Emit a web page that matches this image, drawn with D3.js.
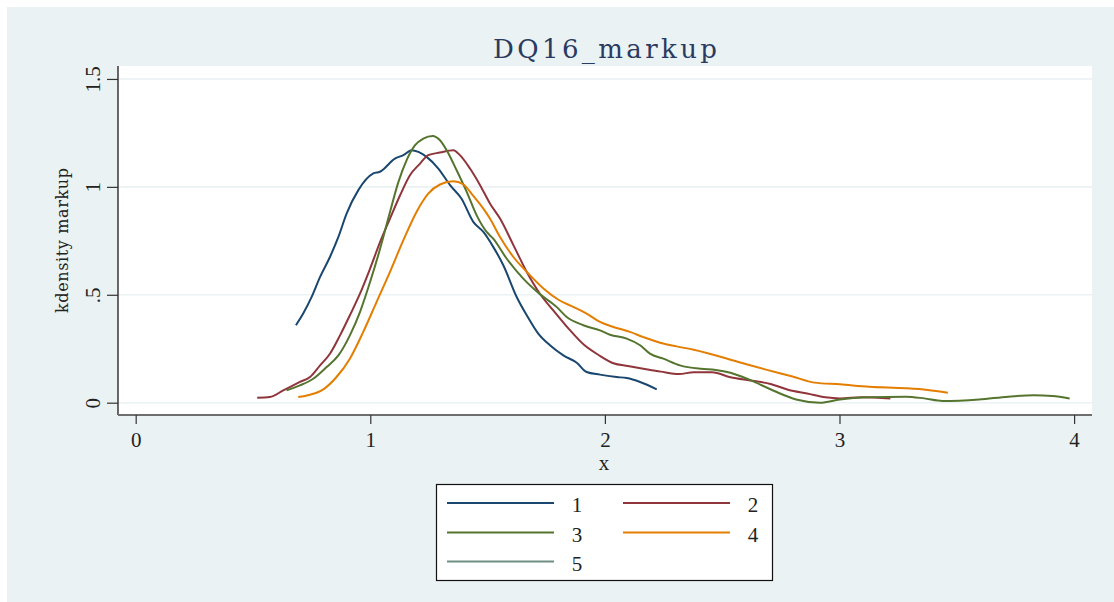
<!DOCTYPE html>
<html>
<head>
<meta charset="utf-8">
<script src="https://cdn.jsdelivr.net/npm/d3@7"></script>
<style>
  html, body { margin: 0; padding: 0; background: #ffffff; }
  svg { display: block; }
  text { font-family: "Liberation Serif", "DejaVu Serif", serif; }
</style>
</head>
<body>
<svg id="chart" width="1114" height="602"></svg>
<script>
// ---------------- data ----------------
const chartTitle = "DQ16_markup";
const xTitle = "x";
const yTitle = "kdensity markup";
const seriesNames = ["1", "2", "3", "4", "5"];
const seriesColors = ["#1a476f", "#90353b", "#55752f", "#e37e00", "#6e8e84"];
const xTicks = [0, 1, 2, 3, 4];
const yTicks = [0, 0.5, 1, 1.5];
const yTickLabels = ["0", ".5", "1", "1.5"];

const series1 = [
  [0.683,0.359],[0.714,0.413],[0.750,0.490],[0.786,0.583],[0.828,0.675],[0.864,0.768],
  [0.899,0.876],[0.949,0.985],[1.013,1.062],[1.041,1.070],[1.105,1.131],[1.141,1.147],
  [1.176,1.170],[1.205,1.162],[1.240,1.139],[1.290,1.085],[1.340,1.008],[1.389,0.945],
  [1.439,0.838],[1.482,0.791],[1.524,0.722],[1.567,0.637],[1.624,0.490],[1.667,0.405],
  [1.716,0.320],[1.766,0.266],[1.823,0.219],[1.880,0.185],[1.922,0.142],[1.979,0.130],
  [2.050,0.119],[2.093,0.114],[2.150,0.096],[2.221,0.062]
];
const series2 = [
  [0.518,0.023],[0.572,0.026],[0.629,0.057],[0.700,0.096],[0.743,0.119],[0.786,0.173],
  [0.828,0.227],[0.871,0.312],[0.913,0.405],[0.956,0.505],[0.999,0.621],[1.042,0.745],
  [1.084,0.853],[1.127,0.961],[1.169,1.054],[1.212,1.108],[1.247,1.147],[1.297,1.159],
  [1.354,1.170],[1.382,1.147],[1.425,1.085],[1.468,1.008],[1.510,0.923],[1.553,0.853],
  [1.610,0.730],[1.667,0.606],[1.723,0.505],[1.786,0.420],[1.848,0.340],[1.911,0.268],
  [1.973,0.221],[2.036,0.183],[2.098,0.170],[2.176,0.155],[2.238,0.144],[2.316,0.133],
  [2.379,0.141],[2.457,0.141],[2.535,0.118],[2.628,0.102],[2.706,0.087],[2.784,0.059],
  [2.862,0.043],[2.940,0.025],[3.002,0.020],[3.096,0.025],[3.217,0.019]
];
const series3 = [
  [0.643,0.057],[0.700,0.080],[0.757,0.111],[0.814,0.165],[0.864,0.219],[0.913,0.312],
  [0.956,0.420],[0.999,0.559],[1.042,0.714],[1.084,0.884],[1.120,1.023],[1.155,1.124],
  [1.191,1.193],[1.226,1.224],[1.266,1.236],[1.297,1.216],[1.333,1.155],[1.368,1.077],
  [1.411,0.977],[1.453,0.869],[1.496,0.791],[1.524,0.760],[1.581,0.668],[1.652,0.575],
  [1.723,0.503],[1.794,0.444],[1.837,0.397],[1.908,0.359],[1.979,0.335],[2.022,0.315],
  [2.093,0.297],[2.150,0.266],[2.192,0.227],[2.249,0.204],[2.320,0.173],[2.410,0.157],
  [2.472,0.152],[2.535,0.139],[2.613,0.108],[2.722,0.054],[2.815,0.015],[2.917,0.000],
  [3.002,0.015],[3.127,0.025],[3.283,0.028],[3.361,0.020],[3.439,0.008],[3.595,0.015],
  [3.720,0.028],[3.829,0.034],[3.907,0.031],[3.981,0.019]
];
const series4 = [
  [0.693,0.026],[0.743,0.037],[0.800,0.062],[0.856,0.119],[0.913,0.204],[0.970,0.328],
  [1.027,0.467],[1.084,0.606],[1.141,0.753],[1.197,0.884],[1.247,0.969],[1.297,1.011],
  [1.354,1.026],[1.397,1.011],[1.439,0.958],[1.482,0.899],[1.510,0.853],[1.553,0.768],
  [1.610,0.675],[1.667,0.606],[1.738,0.529],[1.802,0.477],[1.865,0.444],[1.922,0.413],
  [1.979,0.374],[2.036,0.351],[2.107,0.328],[2.164,0.304],[2.235,0.278],[2.306,0.261],
  [2.379,0.245],[2.566,0.190],[2.691,0.152],[2.800,0.121],[2.893,0.093],[3.002,0.085],
  [3.127,0.074],[3.283,0.067],[3.376,0.059],[3.462,0.046]
];
const series5 = [];
const allSeries = [series1, series2, series3, series4, series5];

// ---------------- layout ----------------
const W = 1114, H = 602;
const plot = { left: 118, right: 1092, top: 66, bottom: 415 };

const svg = d3.select("#chart");

// outer background
svg.append("rect").attr("x", 0).attr("y", 0).attr("width", W).attr("height", H).attr("fill", "#ffffff");
svg.append("rect").attr("x", 7).attr("y", 7).attr("width", W - 7).attr("height", H - 7).attr("fill", "#eaf2f3");

// plot region
svg.append("rect")
  .attr("x", plot.left).attr("y", plot.top)
  .attr("width", plot.right - plot.left).attr("height", plot.bottom - plot.top)
  .attr("fill", "#ffffff");

const x = d3.scaleLinear().domain([-0.0754, 4.0763]).range([plot.left, plot.right]);
const y = d3.scaleLinear().domain([-0.057, 1.560]).range([plot.bottom, plot.top]);

// grid lines
svg.append("g").selectAll("line").data(yTicks).join("line")
  .attr("x1", plot.left).attr("x2", plot.right)
  .attr("y1", d => y(d)).attr("y2", d => y(d))
  .attr("stroke", "#eaf2f3").attr("stroke-width", 1.6);

// y axis
const yAxis = d3.axisLeft(y).tickValues(yTicks).tickSize(11).tickPadding(6)
  .tickFormat((d, i) => yTickLabels[i]);
const gy = svg.append("g").attr("transform", `translate(${plot.left},0)`).call(yAxis);
gy.select(".domain").attr("d", `M0,${plot.top}V${plot.bottom}`).attr("stroke", "#1a1a1a").attr("stroke-width", 1.3);
gy.selectAll(".tick line").attr("stroke", "#333").attr("stroke-width", 1.2);
gy.selectAll(".tick text")
  .attr("font-size", 21).attr("fill", "#222")
  .attr("transform", "rotate(-90)")
  .attr("x", 0).attr("y", -18)
  .attr("dy", 0)
  .attr("text-anchor", "middle");

// x axis
const xAxis = d3.axisBottom(x).tickValues(xTicks).tickSize(9).tickPadding(6).tickFormat(d3.format("d"));
const gx = svg.append("g").attr("transform", `translate(0,${plot.bottom})`).call(xAxis);
gx.select(".domain").attr("d", `M${plot.left},0H${plot.right}`).attr("stroke", "#6e6e6e").attr("stroke-width", 2);
gx.selectAll(".tick line").attr("stroke", "#333").attr("stroke-width", 1.2);
gx.selectAll(".tick text").attr("font-size", 21).attr("fill", "#222").attr("y", 32).attr("dy", 0);

// titles
svg.append("text").attr("x", (plot.left + plot.right) / 2).attr("y", 58)
  .attr("text-anchor", "middle").attr("font-size", 26).attr("fill", "#2a3a60")
  .style("font-family", "'DejaVu Serif', serif")
  .attr("textLength", 224).attr("lengthAdjust", "spacing")
  .text(chartTitle);

svg.append("text").attr("x", 604).attr("y", 470)
  .attr("text-anchor", "middle").attr("font-size", 21).attr("fill", "#222")
  .text(xTitle);

svg.append("text")
  .attr("transform", `translate(68,${(plot.top + plot.bottom) / 2}) rotate(-90)`)
  .attr("text-anchor", "middle").attr("font-size", 16).attr("fill", "#222")
  .style("font-family", "'DejaVu Serif', serif")
  .attr("textLength", 145).attr("lengthAdjust", "spacing")
  .text(yTitle);

// curves
const line = d3.line().x(d => x(d[0])).y(d => y(d[1])).curve(d3.curveMonotoneX);
const gLines = svg.append("g");
allSeries.forEach((s, i) => {
  if (!s.length) return;
  gLines.append("path").datum(s)
    .attr("d", line)
    .attr("fill", "none")
    .attr("stroke", seriesColors[i])
    .attr("stroke-width", 2)
    .attr("stroke-linejoin", "round");
});

// legend
const legend = svg.append("g");
legend.append("rect").attr("x", 436.5).attr("y", 484.5).attr("width", 336).attr("height", 96)
  .attr("fill", "#ffffff").attr("stroke", "#111").attr("stroke-width", 1.2);
const colX = [447, 623];
const labelX = [577, 753];
const rowY = [503, 532.5, 561.5];
seriesNames.forEach((name, i) => {
  const c = i % 2, r = Math.floor(i / 2);
  legend.append("line")
    .attr("x1", colX[c]).attr("x2", colX[c] + 107)
    .attr("y1", rowY[r]).attr("y2", rowY[r])
    .attr("stroke", seriesColors[i]).attr("stroke-width", 2);
  legend.append("text")
    .attr("x", labelX[c]).attr("y", rowY[r] + 9)
    .attr("text-anchor", "middle").attr("font-size", 21).attr("fill", "#222")
    .text(name);
});
</script>
</body>
</html>
